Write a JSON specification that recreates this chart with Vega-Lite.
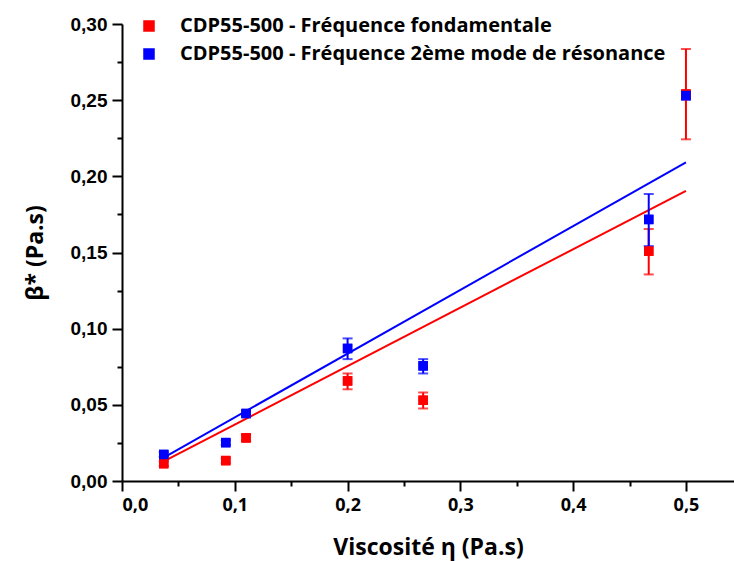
{
  "$schema": "https://vega.github.io/schema/vega-lite/v6.json",
  "width": 612,
  "height": 457,
  "autosize": {"type": "none"},
  "padding": {"left": 122, "top": 24, "right": 0, "bottom": 80},
  "background": "white",
  "config": {
    "view": {"stroke": null},
    "axis": {
      "grid": false,
      "domainColor": "black",
      "domainWidth": 2,
      "tickColor": "black",
      "tickWidth": 2,
      "tickSize": 10,
      "labelColor": "black",
      "labelFontWeight": "bold",
      "titleColor": "black",
      "titleFont": "Open Sans",
      "titleFontWeight": "bold",
      "titleFontSize": 23
    },
    "legend": {
      "padding": 0,
      "symbolType": "square",
      "symbolSize": 100,
      "labelFont": "Open Sans",
      "labelFontSize": 20,
      "labelFontWeight": "bold",
      "labelColor": "black",
      "labelOffset": 21,
      "labelLimit": 1000,
      "rowPadding": 8
    }
  },
  "datasets": {
    "points": [
      {"serie": "CDP55-500 - Fréquence fondamentale", "eta": 0.037, "beta": 0.0114, "lo": 0.0099, "hi": 0.0129},
      {"serie": "CDP55-500 - Fréquence fondamentale", "eta": 0.092, "beta": 0.0134, "lo": 0.0119, "hi": 0.0149},
      {"serie": "CDP55-500 - Fréquence fondamentale", "eta": 0.11, "beta": 0.0283, "lo": 0.0263, "hi": 0.0303},
      {"serie": "CDP55-500 - Fréquence fondamentale", "eta": 0.2, "beta": 0.0657, "lo": 0.0602, "hi": 0.0706},
      {"serie": "CDP55-500 - Fréquence fondamentale", "eta": 0.267, "beta": 0.053, "lo": 0.0476, "hi": 0.0581},
      {"serie": "CDP55-500 - Fréquence fondamentale", "eta": 0.467, "beta": 0.1509, "lo": 0.1356, "hi": 0.1654},
      {"serie": "CDP55-500 - Fréquence fondamentale", "eta": 0.5, "beta": 0.254, "lo": 0.2243, "hi": 0.2836},
      {"serie": "CDP55-500 - Fréquence 2ème mode de résonance", "eta": 0.037, "beta": 0.0174, "lo": 0.0159, "hi": 0.0189},
      {"serie": "CDP55-500 - Fréquence 2ème mode de résonance", "eta": 0.092, "beta": 0.0252, "lo": 0.0237, "hi": 0.0267},
      {"serie": "CDP55-500 - Fréquence 2ème mode de résonance", "eta": 0.11, "beta": 0.0443, "lo": 0.0428, "hi": 0.0458},
      {"serie": "CDP55-500 - Fréquence 2ème mode de résonance", "eta": 0.2, "beta": 0.087, "lo": 0.08, "hi": 0.0936},
      {"serie": "CDP55-500 - Fréquence 2ème mode de résonance", "eta": 0.267, "beta": 0.0756, "lo": 0.0706, "hi": 0.08},
      {"serie": "CDP55-500 - Fréquence 2ème mode de résonance", "eta": 0.467, "beta": 0.1717, "lo": 0.1542, "hi": 0.1884},
      {"serie": "CDP55-500 - Fréquence 2ème mode de résonance", "eta": 0.5, "beta": 0.253, "lo": 0.2505, "hi": 0.2555}
    ],
    "fits": [
      {"serie": "CDP55-500 - Fréquence fondamentale", "eta": 0.037, "beta": 0.0129},
      {"serie": "CDP55-500 - Fréquence fondamentale", "eta": 0.5, "beta": 0.1905},
      {"serie": "CDP55-500 - Fréquence 2ème mode de résonance", "eta": 0.037, "beta": 0.0154},
      {"serie": "CDP55-500 - Fréquence 2ème mode de résonance", "eta": 0.5, "beta": 0.2092}
    ]
  },
  "layer": [
    {
      "data": {"name": "points"},
      "mark": {"type": "point", "shape": "square", "filled": true, "size": 90, "opacity": 1},
      "encoding": {
        "x": {
          "field": "eta", "type": "quantitative",
          "scale": {"domain": [0, 0.5426], "nice": false, "zero": false},
          "axis": {"orient": "bottom", "values": [0.05, 0.15, 0.25, 0.35, 0.45], "labels": false, "domain": false, "tickSize": 5, "title": null}
        },
        "y": {
          "field": "beta", "type": "quantitative",
          "scale": {"domain": [0, 0.3], "nice": false, "zero": false},
          "axis": {"orient": "left", "values": [0.025, 0.075, 0.125, 0.175, 0.225, 0.275], "labels": false, "domain": false, "tickSize": 5, "title": null}
        },
        "color": {"field": "serie", "type": "nominal",
          "scale": {"domain": ["CDP55-500 - Fréquence fondamentale", "CDP55-500 - Fréquence 2ème mode de résonance"], "range": ["#ff0000", "#0000ff"]},
          "legend": {"orient": "none", "legendX": 17, "legendY": -8, "title": null, "padding": 0}}
      }
    },
    {
      "data": {"name": "fits"},
      "mark": {"type": "line", "strokeWidth": 2},
      "encoding": {
        "x": {"field": "eta", "type": "quantitative", "axis": null},
        "y": {"field": "beta", "type": "quantitative", "axis": null},
        "color": {"field": "serie", "type": "nominal"},
        "detail": {"field": "serie"}
      }
    },
    {
      "data": {"name": "points"},
      "mark": {"type": "errorbar", "ticks": {"size": 10}, "thickness": 2},
      "encoding": {
        "x": {"field": "eta", "type": "quantitative", "axis": null},
        "y": {"field": "lo", "type": "quantitative", "axis": null},
        "y2": {"field": "hi"},
        "color": {"field": "serie", "type": "nominal"}
      }
    },
    {
      "data": {"name": "points"},
      "mark": {"type": "point", "shape": "square", "filled": true, "size": 90, "opacity": 1},
      "encoding": {
        "x": {
          "field": "eta", "type": "quantitative",
          "axis": {
            "orient": "bottom",
            "values": [0, 0.1, 0.2, 0.3, 0.4, 0.5],
            "labelExpr": "replace(format(datum.value, '.1f'), '.', ',')",
            "labelFont": "Open Sans", "labelFontSize": 18, "labelPadding": 5,
            "title": "Viscosité η (Pa.s)", "titlePadding": 22
          }
        },
        "y": {
          "field": "beta", "type": "quantitative",
          "axis": {
            "orient": "left",
            "values": [0, 0.05, 0.1, 0.15, 0.2, 0.25, 0.3],
            "labelExpr": "replace(format(datum.value, '.2f'), '.', ',')",
            "labelFont": "Liberation Sans", "labelFontSize": 19, "labelPadding": 5,
            "title": "β* (Pa.s)", "titlePadding": 23
          }
        },
        "color": {"field": "serie", "type": "nominal"}
      }
    }
  ],
  "resolve": {"axis": {"x": "independent", "y": "independent"}}
}
